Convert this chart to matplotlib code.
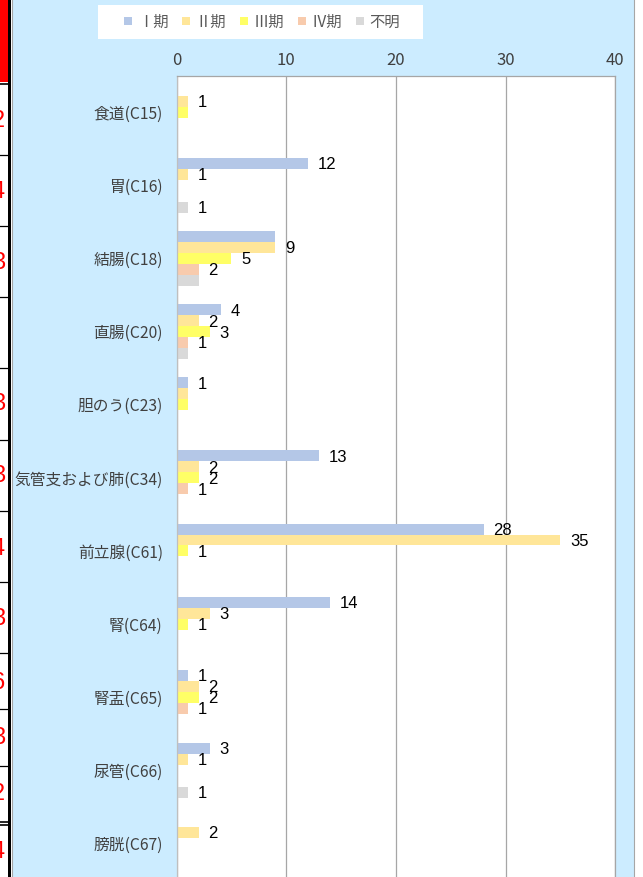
import matplotlib
matplotlib.use("Agg")
import matplotlib.pyplot as plt
from matplotlib.patches import Rectangle, Patch
import numpy as np

plt.rcParams['font.family'] = ['Noto Sans CJK JP', 'DejaVu Sans']

# 部位
sites = ["食道(C15)", "胃(C16)", "結腸(C18)", "直腸(C20)", "胆のう(C23)",
         "気管支および肺(C34)", "前立腺(C61)", "腎(C64)", "腎盂(C65)",
         "尿管(C66)", "膀胱(C67)"]
stages = ["Ⅰ期", "Ⅱ期", "Ⅲ期", "Ⅳ期", "不明"]

stage1 = [0, 12, 9, 4, 1, 13, 28, 14, 1, 3, 0]
stage2 = [1, 1, 9, 2, 1, 2, 35, 3, 2, 1, 2]
stage3 = [1, 0, 5, 3, 1, 2, 1, 1, 2, 0, 0]
stage4 = [0, 0, 2, 1, 0, 1, 0, 0, 1, 0, 0]
unknown = [0, 1, 2, 1, 0, 0, 0, 0, 0, 1, 0]
series = [stage1, stage2, stage3, stage4, unknown]

# labels that do not show in the original (site index, stage index)
hidden_labels = {(0, 2), (2, 0), (2, 4), (3, 4), (4, 1), (4, 2)}

colors = ["#B4C7E7", "#FFE699", "#FFFF66", "#F8CBAD", "#D9D9D9"]

# cut-off spreadsheet column on the left
cell_digits = ["2", "4", "3", "", "3", "3", "4", "3", "6", "3", "2", "4"]
cell_digit_y = [121, 192, 263, 0, 404, 476, 549, 619, 683, 738, 794, 852]
cell_lines = [84, 155, 226, 297, 368, 440, 511, 582, 653, 709, 766, 822]

W, H = 643, 877
bg = "#CCECFF"

fig = plt.figure(figsize=(W / 100, H / 100), dpi=100)
fig.patch.set_facecolor("white")

# chart area background
fig.patches.append(Rectangle((12 / W, -0.01), (634 - 12) / W, 1.02, transform=fig.transFigure,
                             facecolor=bg, edgecolor="#A6A6A6", lw=0.8, zorder=-10))
# legend box
fig.patches.append(Rectangle((98 / W, 1 - 39 / H), 325 / W, 34 / H, transform=fig.transFigure,
                             facecolor="white", edgecolor="none", zorder=-5))

# left table strip
axt = fig.add_axes([0, 0, 8 / W, 1])
axt.set_xlim(0, 8)
axt.set_ylim(H, 0)
axt.axis("off")
axt.axhspan(0, 82, color="red", lw=0)
for yl in cell_lines:
    axt.axhline(yl, color="black", lw=1.2 if yl in (84, 822) else 0.9)
axt.axhline(825, color="black", lw=1.2)
for d, yd in zip(cell_digits, cell_digit_y):
    if d:
        axt.text(-1.5, yd, d, color="red", fontsize=17, ha="center", va="center",
                 family="Liberation Sans", clip_on=True)
fig.patches.append(Rectangle((8 / W, 0), 3 / W, 1, transform=fig.transFigure,
                             facecolor="black", edgecolor="none", zorder=5))

# main chart
ax = fig.add_axes([176.7 / W, -3 / H, 438.4 / W, (880 - 75.7) / H])
ax.set_facecolor("white")
y = np.arange(len(sites))
h = 0.15
for i, (vals, c) in enumerate(zip(series, colors)):
    yy = y + (i - 2) * h
    ax.barh(yy, vals, height=h, color=c, zorder=2)
    for j, v in enumerate(vals):
        if v == 0 or (j, i) in hidden_labels:
            continue
        ax.annotate(str(v), xy=(v, yy[j]), xytext=(7, -1), textcoords="offset points",
                    ha="left", va="center", fontsize=12, color="black",
                    family="Liberation Sans", zorder=3)

ax.set_xlim(0, 40)
ax.set_ylim(len(sites) - 0.5, -0.5)
ax.xaxis.tick_top()
ax.set_xticks(range(0, 41, 10))
ax.tick_params(axis="x", length=0, pad=5, labelsize=12, labelcolor="#404040")
ax.set_yticks(y)
ax.set_yticklabels(sites)
ax.tick_params(axis="y", length=0, pad=10, labelsize=11.3, labelcolor="#404040")
ax.grid(axis="x", color="#A6A6A6", lw=0.9, zorder=1)
ax.set_axisbelow(True)
ax.spines["bottom"].set_visible(False)
ax.spines["left"].set_color("#BFBFBF")
ax.spines["top"].set_color("#A6A6A6")
ax.spines["right"].set_color("#A6A6A6")
for s in ax.spines.values():
    s.set_linewidth(0.9)

handles = [Patch(facecolor=c, edgecolor="none") for c in colors]
fig.legend(handles, stages, loc="center", bbox_to_anchor=(262 / W, 1 - 22 / H),
           ncol=5, frameon=False, fontsize=11, handlelength=0.5, handleheight=0.5,
           handletextpad=0.4, columnspacing=0.9, labelcolor="#595959")

fig.savefig("out.png", dpi=100)
